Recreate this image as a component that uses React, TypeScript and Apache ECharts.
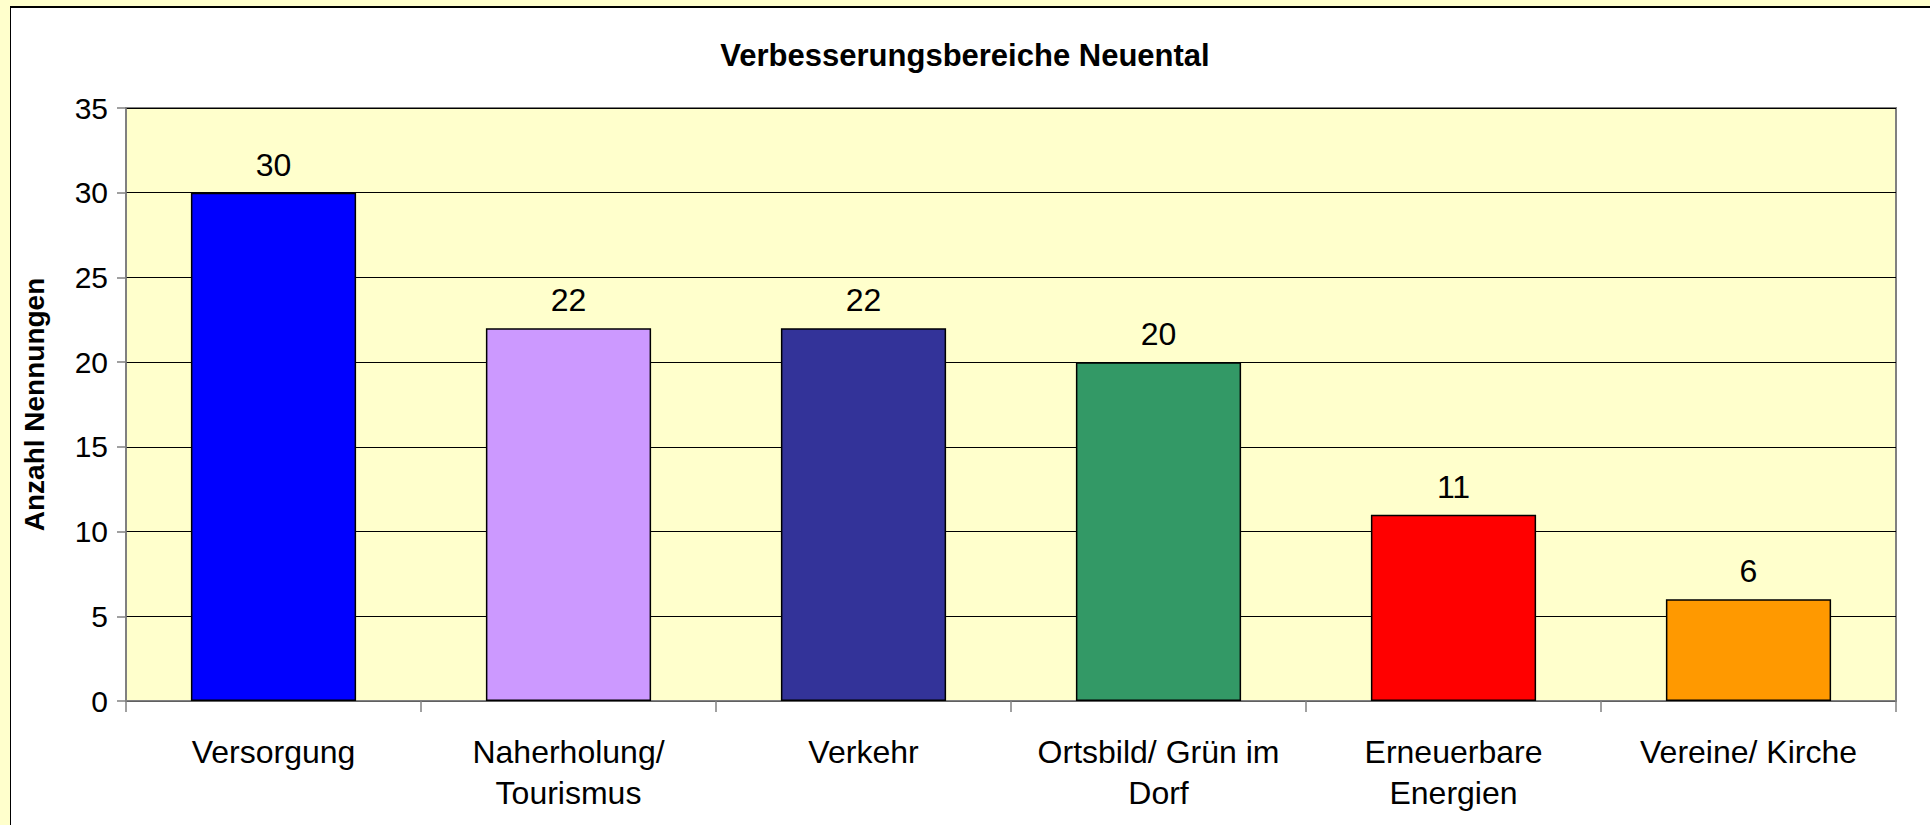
import React, { useEffect, useRef } from "react";
import * as echarts from "echarts";

const titleText = "Verbesserungsbereiche Neuental";
const yAxisTitle = "Anzahl Nennungen";
const categories = [
  "Versorgung",
  "Naherholung/\nTourismus",
  "Verkehr",
  "Ortsbild/ Grün im\nDorf",
  "Erneuerbare\nEnergien",
  "Vereine/ Kirche",
];
const values = [30, 22, 22, 20, 11, 6];
const barColors = ["#0000FF", "#CC99FF", "#333399", "#339966", "#FF0000", "#FF9900"];
const yMin = 0;
const yMax = 35;
const yStep = 5;

const FONT = "'Liberation Sans', Arial, sans-serif";

export default function App() {
  const ref = useRef<HTMLDivElement>(null);

  useEffect(() => {
    if (!ref.current) return;
    const chart = echarts.init(ref.current, null, { renderer: "svg" });
    chart.setOption({
      animation: false,
      backgroundColor: "transparent",
      textStyle: { fontFamily: FONT, color: "#000" },
      title: {
        text: titleText,
        left: "center",
        top: 35,
        textStyle: { fontFamily: FONT, fontSize: 31, fontWeight: "bold", color: "#000" },
      },
      grid: {
        left: 126,
        top: 108,
        right: 34,
        bottom: 124,
        show: true,
        backgroundColor: "#FFFFCC",
        borderColor: "#808080",
        borderWidth: 2,
        containLabel: false,
      },
      xAxis: {
        type: "category",
        data: categories,
        axisLine: { show: true, lineStyle: { color: "#808080", width: 1.5 } },
        axisTick: { show: true, alignWithLabel: false, length: 11, lineStyle: { color: "#808080", width: 1.5 } },
        axisLabel: {
          interval: 0,
          margin: 30,
          fontSize: 32,
          lineHeight: 41,
          color: "#000",
          fontFamily: FONT,
        },
        splitLine: { show: false },
      },
      yAxis: {
        type: "value",
        min: yMin,
        max: yMax,
        interval: yStep,
        name: yAxisTitle,
        nameLocation: "middle",
        nameGap: 78,
        nameRotate: 90,
        nameTextStyle: { fontFamily: FONT, fontSize: 28, fontWeight: "bold", color: "#000" },
        axisLine: { show: true, lineStyle: { color: "#808080", width: 1.5 } },
        axisTick: { show: true, length: 9, lineStyle: { color: "#808080", width: 1.5 } },
        axisLabel: { margin: 18, fontSize: 30, color: "#000", fontFamily: FONT },
        splitLine: { show: true, lineStyle: { color: "#000", width: 1 } },
      },
      series: [
        {
          type: "bar",
          data: values.map((v, i) => ({
            value: v,
            itemStyle: { color: barColors[i], borderColor: "#000", borderWidth: 1.5 },
          })),
          barWidth: "56%",
          label: {
            show: true,
            position: "top",
            distance: 12,
            fontSize: 32,
            color: "#000",
            fontFamily: FONT,
          },
        },
      ],
    });
    return () => chart.dispose();
  }, []);

  return (
    <div style={{ position: "absolute", left: 0, top: 0, width: 1930, height: 825, background: "#FFFFCC", overflow: "hidden" }}>
      <div
        style={{
          position: "absolute",
          left: 10,
          top: 6,
          width: 1930,
          height: 830,
          background: "#FFFFFF",
          borderLeft: "1px solid #000",
          borderTop: "2px solid #000",
        }}
      />
      <div ref={ref} style={{ position: "absolute", left: 0, top: 0, width: 1930, height: 825 }} />
    </div>
  );
}
